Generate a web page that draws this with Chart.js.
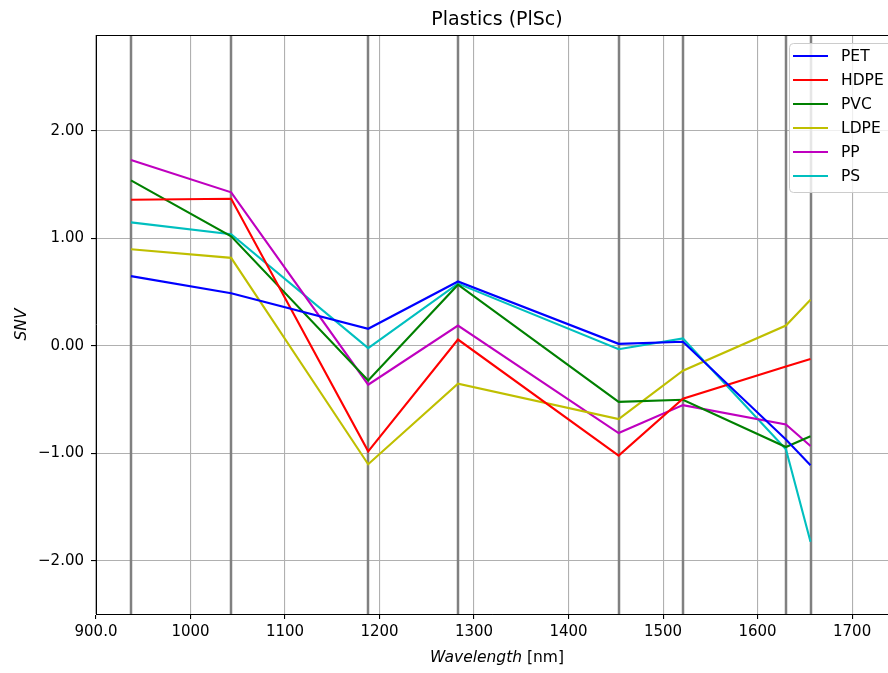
<!DOCTYPE html>
<html>
<head>
<meta charset="utf-8">
<script src="https://cdn.jsdelivr.net/npm/chart.js@4/dist/chart.umd.min.js"></script>
<style>
  html, body { margin: 0; padding: 0; background: #fff; overflow: hidden; }
  #wrap { width: 888px; height: 673px; }
</style>
</head>
<body>
<div id="wrap"><canvas id="snvChart" width="888" height="673"></canvas></div>
<script>
// Band positions (nm) - the spectra are sampled at these wavelengths
const wavelengths = [937, 1043, 1188, 1283, 1453, 1521, 1630, 1656];

// SNV values per plastic type
const petValues  = [0.65, 0.49, 0.16, 0.60, 0.02, 0.04, -0.87, -1.11];
const hdpeValues = [1.36, 1.37, -0.98, 0.06, -1.02, -0.49, -0.19, -0.12];
const pvcValues  = [1.54, 1.02, -0.32, 0.57, -0.52, -0.50, -0.94, -0.84];
const ldpeValues = [0.90, 0.82, -1.10, -0.35, -0.68, -0.23, 0.19, 0.43];
const ppValues   = [1.73, 1.43, -0.36, 0.19, -0.81, -0.55, -0.73, -0.93];
const psValues   = [1.15, 1.04, -0.02, 0.58, -0.03, 0.07, -0.96, -1.82];

const seriesNames = ['PET', 'HDPE', 'PVC', 'LDPE', 'PP', 'PS'];
const seriesColors = ['#0000ff', '#ff0000', '#008000', '#bfbf00', '#bf00bf', '#00bfbf'];
const seriesValues = [petValues, hdpeValues, pvcValues, ldpeValues, ppValues, psValues];

// Tick positions and their labels
const xTicks = [900, 1000, 1100, 1200, 1300, 1400, 1500, 1600, 1700];
const xTickLabels = ['900.0', '1000', '1100', '1200', '1300', '1400', '1500', '1600', '1700'];
const yTicks = [-2, -1, 0, 1, 2];
const yTickLabels = ['\u22122.00', '\u22121.00', '0.00', '1.00', '2.00'];

const FONT = "'DejaVu Sans', sans-serif";

Chart.defaults.font.family = FONT;
Chart.defaults.color = '#000';

// Dark vertical lines at every band, under the spectra
const bandLines = {
    id: 'bandLines',
    beforeDatasetsDraw(chart) {
        const { ctx, chartArea, scales } = chart;
        ctx.save();
        ctx.strokeStyle = '#808080';
        ctx.lineWidth = 2.5;
        wavelengths.forEach(w => {
            const x = Math.round(scales.x.getPixelForValue(w));
            ctx.beginPath();
            ctx.moveTo(x, chartArea.top);
            ctx.lineTo(x, chartArea.bottom);
            ctx.stroke();
        });
        ctx.restore();
    }
};

// Title, axis labels, top spine and the legend box
const decorations = {
    id: 'decorations',
    afterDraw(chart) {
        const { ctx, chartArea } = chart;
        ctx.save();

        // top spine
        ctx.strokeStyle = '#000';
        ctx.lineWidth = 1;
        ctx.beginPath();
        ctx.moveTo(chartArea.left, chartArea.top + 0.5);
        ctx.lineTo(chartArea.right, chartArea.top + 0.5);
        ctx.stroke();

        ctx.fillStyle = '#000';
        ctx.textBaseline = 'alphabetic';

        // title
        ctx.font = '19px ' + FONT;
        ctx.textAlign = 'center';
        ctx.fillText('Plastics (PlSc)', 497, 25);

        // x label: italic word + upright unit
        const word = 'Wavelength';
        const unit = ' [nm]';
        ctx.font = 'italic 15.5px ' + FONT;
        const wWord = ctx.measureText(word).width;
        ctx.font = '15.5px ' + FONT;
        const wUnit = ctx.measureText(unit).width;
        const startX = 497 - (wWord + wUnit) / 2;
        ctx.textAlign = 'left';
        ctx.font = 'italic 15.5px ' + FONT;
        ctx.fillText(word, startX, 662);
        ctx.font = '15.5px ' + FONT;
        ctx.fillText(unit, startX + wWord, 662);

        // y label
        ctx.save();
        ctx.translate(26, (chartArea.top + chartArea.bottom) / 2);
        ctx.rotate(-Math.PI / 2);
        ctx.textAlign = 'center';
        ctx.font = 'italic 15.5px ' + FONT;
        ctx.fillText('SNV', 0, 0);
        ctx.restore();

        // legend
        const lx = 789.5, ly = 43.5, lw = 120, lh = 149;
        ctx.fillStyle = 'rgba(255,255,255,0.8)';
        ctx.strokeStyle = '#cccccc';
        ctx.lineWidth = 1;
        ctx.beginPath();
        ctx.roundRect(lx, ly, lw, lh, 4);
        ctx.fill();
        ctx.stroke();

        ctx.font = '15.5px ' + FONT;
        ctx.textAlign = 'left';
        ctx.textBaseline = 'middle';
        chart.data.datasets.forEach((ds, i) => {
            const y = 56 + i * 24;
            ctx.strokeStyle = ds.borderColor;
            ctx.lineWidth = 2;
            ctx.beginPath();
            ctx.moveTo(793, y);
            ctx.lineTo(828, y);
            ctx.stroke();
            ctx.fillStyle = '#000';
            ctx.fillText(ds.label, 841, y + 1);
        });

        ctx.restore();
    }
};

const datasets = seriesNames.map((name, i) => ({
    label: name,
    data: wavelengths.map((w, j) => ({ x: w, y: seriesValues[i][j] })),
    borderColor: seriesColors[i],
    backgroundColor: seriesColors[i],
    borderWidth: 2.1,
    pointRadius: 0,
    tension: 0,
    fill: false
}));

new Chart(document.getElementById('snvChart').getContext('2d'), {
    type: 'line',
    data: { datasets },
    options: {
        responsive: false,
        animation: false,
        layout: { padding: { top: 35, left: 0, right: 0, bottom: 0 } },
        plugins: {
            legend: { display: false },
            title: { display: false },
            tooltip: { enabled: false }
        },
        scales: {
            x: {
                type: 'linear',
                min: 900,
                max: 1738,
                afterBuildTicks: scale => { scale.ticks = xTicks.map(v => ({ value: v })); },
                afterFit: scale => { scale.height = 59; },
                grid: {
                    color: '#b0b0b0',
                    lineWidth: 1.1,
                    tickColor: '#000',
                    tickLength: 5
                },
                border: { color: '#000', width: 1 },
                ticks: {
                    autoSkip: false,
                    maxRotation: 0,
                    padding: 4,
                    font: { size: 15 },
                    color: '#000',
                    callback: (value, index) => xTickLabels[index]
                }
            },
            y: {
                type: 'linear',
                min: -2.493,
                max: 2.893,
                afterBuildTicks: scale => { scale.ticks = yTicks.map(v => ({ value: v })); },
                afterFit: scale => { scale.width = 96; },
                grid: {
                    color: '#b0b0b0',
                    lineWidth: 1.1,
                    tickColor: '#000',
                    tickLength: 5
                },
                border: { color: '#000', width: 1 },
                ticks: {
                    autoSkip: false,
                    padding: 7,
                    font: { size: 15 },
                    color: '#000',
                    callback: (value, index) => yTickLabels[index]
                }
            }
        }
    },
    plugins: [bandLines, decorations]
});
</script>
</body>
</html>
